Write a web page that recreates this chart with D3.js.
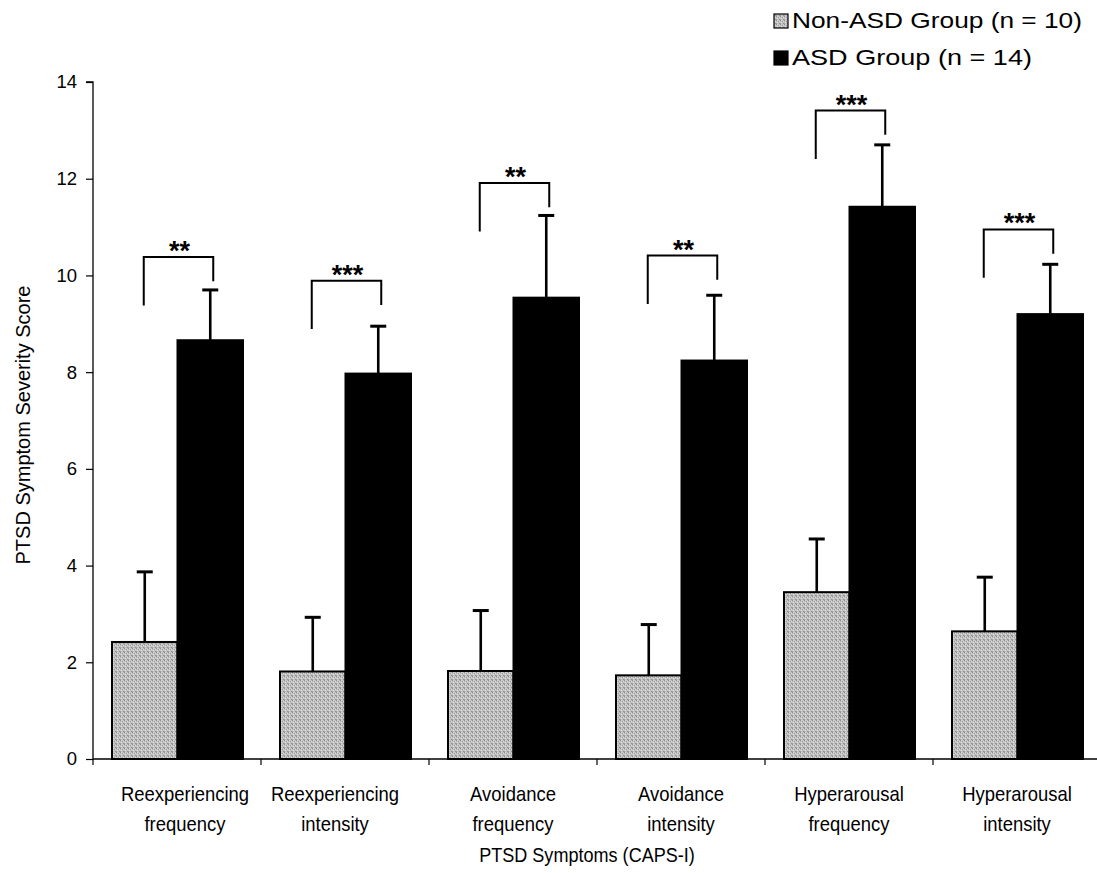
<!DOCTYPE html>
<html>
<head>
<meta charset="utf-8">
<script src="https://cdn.jsdelivr.net/npm/d3@7"></script>
<style>
  html, body { margin: 0; padding: 0; background: #fff; }
  svg { display: block; font-family: "Liberation Sans", Arial, sans-serif; }
</style>
</head>
<body>
<script>
// PTSD symptom severity (CAPS-I) by group, means with upward SE bars
const categories = [
  ["Reexperiencing", "frequency"],
  ["Reexperiencing", "intensity"],
  ["Avoidance", "frequency"],
  ["Avoidance", "intensity"],
  ["Hyperarousal", "frequency"],
  ["Hyperarousal", "intensity"]
];
const seriesNames = ["Non-ASD Group (n = 10)", "ASD Group (n = 14)"];
const nonAsdMean = [2.42, 1.81, 1.82, 1.73, 3.45, 2.64];
const nonAsdErr  = [1.45, 1.12, 1.25, 1.05, 1.10, 1.12];
const asdMean    = [8.66, 7.97, 9.54, 8.24, 11.42, 9.20];
const asdErr     = [1.04, 0.98, 1.70, 1.35, 1.28, 1.03];
const significance = ["**", "***", "**", "**", "***", "***"];
const bracketTop   = [10.38, 9.89, 11.91, 10.41, 13.41, 10.95];
const yTicks = [0, 2, 4, 6, 8, 10, 12, 14];
const yTitle = "PTSD Symptom Severity Score";
const xTitle = "PTSD Symptoms (CAPS-I)";

const W = 1097, H = 873;
const svg = d3.select("body").append("svg").attr("width", W).attr("height", H);
svg.append("rect").attr("width", W).attr("height", H).attr("fill", "#fff");

// stippled grey fill for the comparison group
const defs = svg.append("defs");
const pat = defs.append("pattern").attr("id", "stipple")
  .attr("patternUnits", "userSpaceOnUse").attr("width", 4).attr("height", 4);
pat.append("rect").attr("width", 4).attr("height", 4).attr("fill", "#c0c0c0");
[[0,0,"#8c8c8c"],[2,1,"#9a9a9a"],[1,2,"#e2e2e2"],[3,3,"#929292"],[3,1,"#dcdcdc"],[1,0,"#d8d8d8"],[0,3,"#a4a4a4"]]
  .forEach(([px, py, c]) => pat.append("rect").attr("x", px).attr("y", py).attr("width", 1).attr("height", 1).attr("fill", c));

const plotLeft = 93, plotTop = 82, plotBottom = 759, step = 168;
const x0 = d3.scaleBand().domain(d3.range(categories.length))
  .range([plotLeft, plotLeft + step * categories.length]).padding(0);
const x1 = d3.scaleBand().domain([0, 1]).range([19, 150]).padding(0);
const y = d3.scaleLinear().domain([0, 14]).range([plotBottom, plotTop]);

const series = [
  { mean: nonAsdMean, err: nonAsdErr, fill: "url(#stipple)" },
  { mean: asdMean, err: asdErr, fill: "#000" }
];

const g = svg.append("g");

// bars
series.forEach((s, si) => {
  g.selectAll(null).data(s.mean).enter().append("rect")
    .attr("x", (d, i) => x0(i) + x1(si))
    .attr("y", d => y(d))
    .attr("width", x1.bandwidth())
    .attr("height", d => y(0) - y(d))
    .attr("fill", s.fill)
    .attr("stroke", "#000")
    .attr("stroke-width", 2);
});

// error bars (upper only)
series.forEach((s, si) => {
  const cx = i => x0(i) + x1(si) + x1.bandwidth() / 2;
  g.selectAll(null).data(s.mean).enter().append("line")
    .attr("x1", (d, i) => cx(i)).attr("x2", (d, i) => cx(i))
    .attr("y1", d => y(d)).attr("y2", (d, i) => y(d + s.err[i]))
    .attr("stroke", "#000").attr("stroke-width", 2.6);
  g.selectAll(null).data(s.mean).enter().append("line")
    .attr("x1", (d, i) => cx(i) - 8).attr("x2", (d, i) => cx(i) + 8)
    .attr("y1", (d, i) => y(d + s.err[i])).attr("y2", (d, i) => y(d + s.err[i]))
    .attr("stroke", "#000").attr("stroke-width", 3);
});

// significance brackets
const bx = (i, si) => x0(i) + x1(si) + x1.bandwidth() / 2;
g.selectAll(null).data(bracketTop).enter().append("path")
  .attr("d", (d, i) => {
    const xl = bx(i, 0) - 1, xr = bx(i, 1) + 3;
    return `M${xl},${y(d - 1.0)}V${y(d)}H${xr}V${y(d - 0.5)}`;
  })
  .attr("fill", "none").attr("stroke", "#000").attr("stroke-width", 2);
g.selectAll(null).data(bracketTop).enter().append("text")
  .attr("x", (d, i) => (bx(i, 0) + bx(i, 1)) / 2 + 2)
  .attr("y", d => y(d) + 3)
  .attr("text-anchor", "middle")
  .attr("font-size", 27).attr("font-weight", "bold")
  .text((d, i) => significance[i]);

// y axis
const yAxis = d3.axisLeft(y).tickValues(yTicks).tickSize(7).tickPadding(9).tickFormat(d3.format("d"));
const ya = svg.append("g").attr("transform", `translate(${plotLeft},0)`).call(yAxis);
ya.select(".domain").attr("stroke", "#000").attr("stroke-width", 1.3).attr("d", `M-7,${plotTop}H0V${plotBottom}`);
ya.selectAll(".tick line").attr("stroke", "#000").attr("stroke-width", 1.2);
ya.selectAll(".tick text").attr("font-size", 18.5).attr("fill", "#000")
  .attr("font-family", "'Liberation Sans', Arial, sans-serif");

// x axis with ticks between categories
const xEdges = d3.range(categories.length + 1).map(i => plotLeft + i * step);
svg.append("line").attr("x1", plotLeft).attr("x2", W).attr("y1", plotBottom).attr("y2", plotBottom)
  .attr("stroke", "#000").attr("stroke-width", 1.3);
svg.selectAll(null).data(xEdges).enter().append("line")
  .attr("x1", d => d).attr("x2", d => d).attr("y1", plotBottom).attr("y2", plotBottom + 6)
  .attr("stroke", "#000").attr("stroke-width", 1.2);

// category labels (narrow lettering)
const labelShift = [8, -10, 0, 0, 0, 0];
const catG = svg.append("g");
categories.forEach((lines, i) => {
  const cx = x0(i) + x0.bandwidth() / 2 + labelShift[i];
  lines.forEach((t, li) => {
    catG.append("text")
      .attr("transform", `translate(${cx},${801 + li * 30}) scale(0.9,1)`)
      .attr("text-anchor", "middle").attr("font-size", 20.5).attr("fill", "#000")
      .text(t);
  });
});

// axis titles
svg.append("text")
  .attr("transform", `translate(587,862) scale(0.86,1)`)
  .attr("text-anchor", "middle").attr("font-size", 21).text(xTitle);
svg.append("text")
  .attr("transform", `translate(30,425) rotate(-90)`)
  .attr("text-anchor", "middle").attr("font-size", 20).text(yTitle);

// legend
const legend = svg.append("g");
const legendRows = [{ fill: "url(#stipple)", ty: 28 }, { fill: "#000", ty: 65 }];
legendRows.forEach((r, i) => {
  legend.append("rect").attr("x", 774).attr("y", r.ty - 14).attr("width", 14).attr("height", 14)
    .attr("fill", r.fill).attr("stroke", "#000").attr("stroke-width", 1.2);
  legend.append("text").attr("x", 792).attr("y", r.ty).attr("font-size", 22)
    .attr("textLength", i === 0 ? 290 : 240).attr("lengthAdjust", "spacingAndGlyphs")
    .text(seriesNames[i]);
});
</script>
</body>
</html>
